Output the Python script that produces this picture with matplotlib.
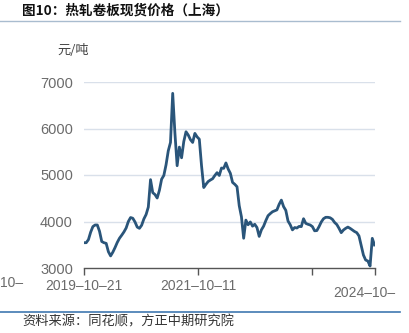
import matplotlib
matplotlib.use("Agg")
import matplotlib.pyplot as plt
import pandas as pd

# Hot-rolled coil spot price, Shanghai (yuan/ton), fortnightly observations
start_date = "2019-10-21"
prices = [
    3544, 3544, 3610, 3770, 3890, 3925, 3925, 3790, 3570, 3544,
    3530, 3350, 3260, 3340, 3440, 3550, 3640, 3705, 3775, 3860,
    4000, 4085, 4070, 3990, 3880, 3853, 3920, 4055, 4150, 4310,
    4900, 4620, 4580, 4505, 4670, 4910, 4990, 5220, 5520, 5700,
    6756, 5900, 5200, 5600, 5370, 5720, 5930, 5860, 5760, 5700,
    5895, 5820, 5770, 5200, 4730, 4800, 4860, 4892, 4920, 4990,
    5050, 4990, 5150, 5143, 5260, 5130, 5036, 4840, 4800, 4748,
    4340, 4100, 3640, 4030, 3930, 3990, 3900, 3940, 3870, 3680,
    3820, 3900, 4020, 4125, 4170, 4210, 4230, 4250, 4370, 4460,
    4320, 4240, 4010, 3930, 3820, 3870, 3860, 3895, 3890, 4060,
    3960, 3940, 3925, 3890, 3800, 3805, 3890, 3990, 4060, 4090,
    4090, 4080, 4047, 3980, 3935, 3853, 3760, 3817, 3853, 3880,
    3853, 3820, 3785, 3760, 3690, 3490, 3280, 3172, 3150, 3043,
    3638, 3495,
]
y_ticks = [3000, 4000, 5000, 6000, 7000]
title = "图10：热轧卷板现货价格（上海）"
unit = "元/吨"
source = "资料来源：同花顺，方正中期研究院"

dates = pd.date_range(start_date, periods=len(prices), freq="2W-MON")
calendar = pd.bdate_range(start_date, dates[-1])
x = calendar.get_indexer(dates)

cjk = ["Noto Sans CJK SC", "DejaVu Sans"]
num_font = ["Liberation Sans", "DejaVu Sans"]
label_color = "#6b6b6b"

fig = plt.figure(figsize=(4.09, 3.33), dpi=100)
ax = fig.add_axes([84 / 409, 1 - 268 / 333, 290.5 / 409, 186 / 333])

ax.plot(x, prices, color="#2a557a", lw=2.0, solid_joinstyle="round")

ax.set_xlim(0, len(calendar) - 1)
ax.set_ylim(3000, 7000)
ax.set_yticks(y_ticks)
ax.set_yticklabels([str(v) for v in y_ticks], family=num_font, fontsize=10.5,
                   color=label_color)
ax.tick_params(axis="y", length=0, pad=8)
for v in y_ticks[1:]:
    ax.axhline(v, color="#d9e0ea", lw=1.0, zorder=0)

step = 515
tick_pos = [0, step, 2 * step, len(calendar) - 1]
tick_lab = [calendar[0].strftime("%Y–%m–%d"), calendar[step].strftime("%Y–%m–%d"), "", ""]
ax.set_xticks(tick_pos)
ax.set_xticklabels(tick_lab, family=num_font, fontsize=10, color=label_color)
ax.tick_params(axis="x", length=5, width=1, color="#555555", pad=3)

# last date label, only its year-month part fits inside the panel
ax.annotate(calendar[-1].strftime("%Y–%m–"), xy=(tick_pos[-1], 3000),
            xytext=(-30, -18), textcoords="offset points", ha="left",
            va="center", family=num_font, fontsize=10, color=label_color,
            annotation_clip=False)

for side in ["top", "right", "left"]:
    ax.spines[side].set_visible(False)
ax.spines["bottom"].set_color("#555555")
ax.spines["bottom"].set_linewidth(1.0)

fig.text(0, 1 - 283 / 333, "10–", family=num_font, fontsize=10, color=label_color,
         ha="left", va="center")

fig.text(22 / 409, 1 - 11 / 333, title, family=cjk, fontsize=9.8, fontweight="bold",
         color="#111111", ha="left", va="center")
fig.add_artist(plt.Line2D([0, 400 / 409], [1 - 20.5 / 333] * 2, color="#a9bccf", lw=1.0,
                          transform=fig.transFigure))
fig.text(57 / 409, 1 - 51 / 333, unit, family=cjk, fontsize=9.5, color="#444444",
         ha="left", va="center")

fig.add_artist(plt.Line2D([0, 400 / 409], [1 - 311.5 / 333] * 2, color="#3f78b0", lw=1.2,
                          transform=fig.transFigure))
fig.text(22 / 409, 1 - 322 / 333, source, family=cjk, fontsize=9.5, color="#333333",
         ha="left", va="center")

fig.savefig("out.png", dpi=100)
